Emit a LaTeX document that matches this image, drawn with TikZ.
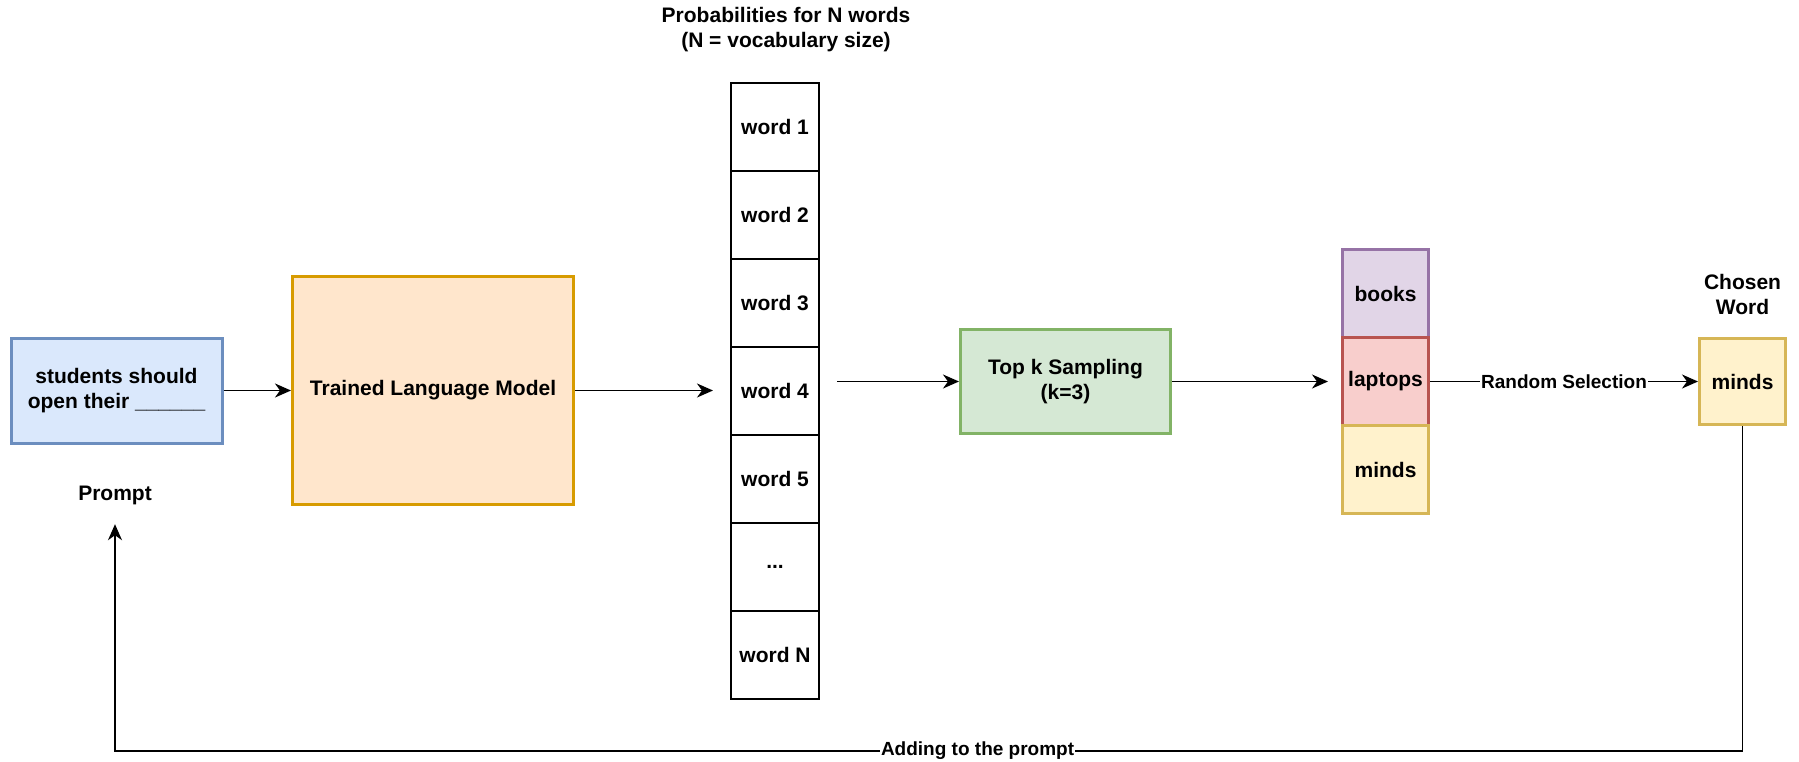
\documentclass[tikz,border=0pt]{standalone}
\usepackage{fontspec}
\setmainfont{Liberation Sans}
\usetikzlibrary{arrows.meta,calc}

\definecolor{blueF}{HTML}{DAE8FC}\definecolor{blueD}{HTML}{6C8EBF}
\definecolor{orangeF}{HTML}{FFE6CC}\definecolor{orangeD}{HTML}{D79B00}
\definecolor{greenF}{HTML}{D5E8D4}\definecolor{greenD}{HTML}{82B366}
\definecolor{purpleF}{HTML}{E1D5E7}\definecolor{purpleD}{HTML}{9673A6}
\definecolor{redF}{HTML}{F8CECC}\definecolor{redD}{HTML}{B85450}
\definecolor{yellowF}{HTML}{FFF2CC}\definecolor{yellowD}{HTML}{D6B656}

\newcommand\moredots{...}

\begin{document}
\begin{tikzpicture}[x=1pt,y=-1pt,
  font=\fontsize{21}{25}\selectfont\bfseries,
  box/.style={draw, line width=3pt, inner sep=0pt, align=center},
  cell/.style={draw, line width=1.5pt, minimum width=88pt, minimum height=88pt, inner sep=0pt},
  pick/.style={box, minimum width=86pt, minimum height=88pt},
  arr/.style={line width=1.6pt, -{Stealth[length=16pt,width=14pt,inset=5pt]}},
  lbl/.style={fill=white, inner sep=1pt, font=\fontsize{19}{22}\selectfont\bfseries}]

\useasboundingbox (0,0) rectangle (1799,761);

% prompt and model
\node[box, fill=blueF, draw=blueD, minimum width=211pt, minimum height=105pt]
  (prompt) at (116.5,390.5) {students should\\open their \_\_\_\_\_\_};
\node[minimum height=58pt, inner sep=0pt] (plabel) at (115,495) {Prompt};
\node[box, fill=orangeF, draw=orangeD, minimum width=281pt, minimum height=228pt]
  (lm) at (433,390.5) {Trained Language Model};

% probability column
\node[align=center] (ptitle) at (786,30) {Probabilities for N words\\(N = vocabulary size)};
\foreach \i/\t in {1/word 1, 2/word 2, 3/word 3, 4/word 4, 5/word 5, 6/\moredots, 7/word N}
  \node[cell] (w\i) at (775,{127+88*(\i-1)}) {\t};

% sampling
\node[box, fill=greenF, draw=greenD, minimum width=210pt, minimum height=104pt]
  (topk) at (1065.5,381.5) {Top k Sampling\\(k=3)};

% top-k candidates
\node[pick, fill=purpleF, draw=purpleD] (books) at (1385.5,293.5) {books};
\node[pick, fill=redF, draw=redD] (laptops) at (1385.5,381.5) {laptops};
\node[pick, fill=yellowF, draw=yellowD] (minds) at (1385.5,469.5) {minds};

% chosen word
\node[align=center] (chtitle) at (1742.5,294.5) {Chosen\\Word};
\node[box, fill=yellowF, draw=yellowD, minimum width=86pt, minimum height=86pt]
  (chosen) at (1742.5,381.5) {minds};

% connectors
\coordinate (lmend) at (713,390.5);
\coordinate (colout) at (837,381.5);
\coordinate (kend) at (1328,381.5);
\coordinate (c1) at (1742.5,751);
\coordinate (c2) at (115,751);

\draw[arr] (prompt) -- (lm);
\draw[arr] (lm.east) -- (lmend);
\draw[arr] (colout) -- (topk.west);
\draw[arr] (topk.east) -- (kend);
\draw[arr] (laptops.east) -- node[lbl] {Random Selection} (chosen.west);
\draw[arr] (chosen.south) -- (c1) -- node[lbl, pos=0.47] {Adding to the prompt} (c2) -- (plabel.south);

\end{tikzpicture}
\end{document}
